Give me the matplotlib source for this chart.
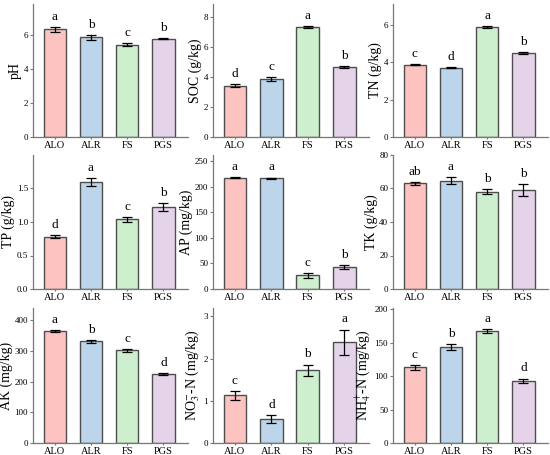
import numpy as np
import matplotlib
matplotlib.use('Agg')
import matplotlib.pyplot as plt

plt.rcParams['font.family'] = ['Liberation Serif', 'DejaVu Serif']
plt.rcParams['mathtext.fontset'] = 'stix'

# data
groups = ['ALO', 'ALR', 'FS', 'PGS']
colors = ['#FDC3C0', '#BCD5EA', '#CDEFCE', '#E5D3EA']

ph = [6.33, 5.84, 5.42, 5.75]
ph_err = [0.15, 0.15, 0.07, 0.03]
soc = [3.43, 3.88, 7.35, 4.68]
soc_err = [0.10, 0.12, 0.05, 0.04]
tn = [3.87, 3.70, 5.89, 4.50]
tn_err = [0.04, 0.04, 0.05, 0.05]
tp = [0.78, 1.59, 1.04, 1.22]
tp_err = [0.02, 0.06, 0.04, 0.06]
ap = [217.5, 217.0, 26.5, 43.4]
ap_err = [1.0, 1.0, 5.0, 4.0]
tk = [63.1, 64.7, 58.2, 58.9]
tk_err = [1.0, 2.0, 1.5, 3.5]
ak = [364.0, 331.0, 302.0, 225.6]
ak_err = [3.0, 4.0, 5.0, 3.0]
no3 = [1.13, 0.57, 1.72, 2.39]
no3_err = [0.10, 0.10, 0.14, 0.30]
nh4 = [113.0, 143.4, 167.0, 93.0]
nh4_err = [4.0, 4.0, 3.0, 3.5]

panels = [
    ('pH', ph, ph_err, ['a', 'b', 'c', 'b'], 7.8, [0, 2, 4, 6]),
    ('SOC (g/kg)', soc, soc_err, ['d', 'c', 'a', 'b'], 8.9, [0, 2, 4, 6, 8]),
    ('TN (g/kg)', tn, tn_err, ['c', 'd', 'a', 'b'], 7.1, [0, 2, 4, 6]),
    ('TP (g/kg)', tp, tp_err, ['d', 'a', 'c', 'b'], 2.0, [0.0, 0.5, 1.0, 1.5]),
    ('AP (mg/kg)', ap, ap_err, ['a', 'a', 'c', 'b'], 262, [0, 50, 100, 150, 200, 250]),
    ('TK (g/kg)', tk, tk_err, ['ab', 'a', 'b', 'b'], 80, [0, 20, 40, 60, 80]),
    ('AK (mg/kg)', ak, ak_err, ['a', 'b', 'c', 'd'], 440, [0, 100, 200, 300, 400]),
    ('NO$_3^{-}$-N (mg/kg)', no3, no3_err, ['c', 'd', 'b', 'a'], 3.2, [0, 1, 2, 3]),
    ('NH$_4^{+}$-N (mg/kg)', nh4, nh4_err, ['c', 'b', 'a', 'd'], 202, [0, 50, 100, 150, 200]),
]

W, H = 550, 455
fig = plt.figure(figsize=(5.5, 4.55), dpi=100)

col_left = [33, 213, 393]
col_right = [188, 369, 548]
row_top = [4, 155, 308]
row_bot = [137, 289, 443]

x = np.arange(len(groups))
for k, (label, vals, errs, letters, ytop, yt) in enumerate(panels):
    r, c = divmod(k, 3)
    ax = fig.add_axes([col_left[c] / W, 1 - row_bot[r] / H,
                       (col_right[c] - col_left[c]) / W,
                       (row_bot[r] - row_top[r]) / H])
    ax.bar(x, vals, width=0.62, color=colors, edgecolor='#4d4d4d', linewidth=1.0)
    ax.errorbar(x, vals, yerr=errs, fmt='none', ecolor='black',
                elinewidth=0.9, capsize=3.5, capthick=0.9)
    for xi, v, e, t in zip(x, vals, errs, letters):
        ax.text(xi, v + e + ytop * 0.03, t, ha='center', va='bottom', fontsize=9.5)
    ax.set_xlim(-0.6, 3.68)
    ax.set_ylim(0, ytop)
    ax.set_yticks(yt)
    if label.startswith('TP'):
        ax.set_yticklabels([f'{v:.1f}' for v in yt])
    ax.set_xticks(x)
    ax.set_xticklabels(groups)
    ax.set_ylabel(label, fontsize=10, labelpad=1)
    for s in ['top', 'right']:
        ax.spines[s].set_visible(False)
    for s in ['left', 'bottom']:
        ax.spines[s].set_color('#777777')
        ax.spines[s].set_linewidth(0.9)
    ax.tick_params(axis='y', labelsize=6.5, length=2, width=0.8,
                   color='#777777', pad=1.5)
    ax.tick_params(axis='x', labelsize=7.5, length=1.5, width=0.8,
                   color='#777777', pad=1.5)

fig.savefig('out.png', dpi=100)
